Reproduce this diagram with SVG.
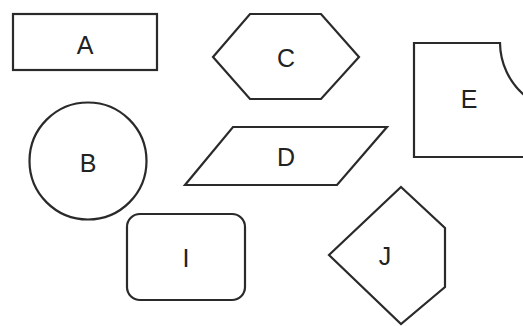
<svg xmlns="http://www.w3.org/2000/svg" width="523" height="326" viewBox="0 0 523 326">
<style>
.s{fill:#fff;stroke:#2a2a2a;stroke-width:2.2}
.t{font-family:"Liberation Sans",Arial,sans-serif;font-size:25px;fill:#222;text-anchor:middle;dominant-baseline:central}
</style>
<rect width="523" height="326" fill="#fff"/>
<g id="A"><rect class="s" x="13" y="14" width="144" height="56"/><text class="t" x="85" y="45">A</text></g>
<g id="C"><polygon class="s" points="213,57 250,14 321,14 359,57 321,99 250,99"/><text class="t" x="286" y="58">C</text></g>
<g id="E"><path class="s" d="M524,157 L414,157 L414,43 L500,43 A70,70 0 0 0 524,95"/><text class="t" x="469" y="99">E</text></g>
<g id="B"><circle class="s" cx="88" cy="161" r="58.5"/><text class="t" x="88" y="163">B</text></g>
<g id="D"><polygon class="s" points="233,127 387,127 337,185 185,185"/><text class="t" x="286" y="157">D</text></g>
<g id="I"><rect class="s" x="127" y="214" width="118" height="86" rx="13"/><text class="t" x="186" y="258">I</text></g>
<g id="J"><polygon class="s" points="401,187 445,228 445,287 401,324 329,255"/><text class="t" x="385" y="256">J</text></g>
<g id="connectors"></g>
</svg>
